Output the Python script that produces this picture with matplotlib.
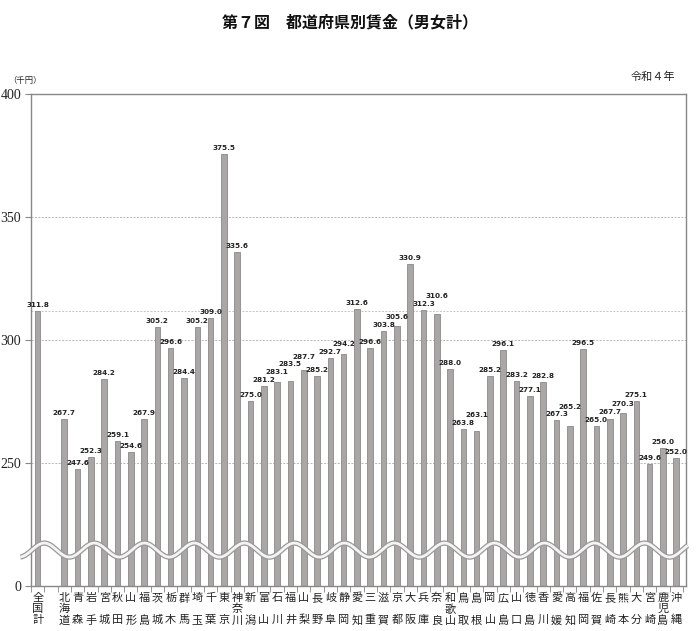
import numpy as np
import matplotlib
matplotlib.use("Agg")
import matplotlib.pyplot as plt

plt.rcParams['font.family'] = ['Noto Sans CJK JP', 'DejaVu Sans']

# --- data ---
national_label = "全国計"
national_value = 311.8

prefectures = [
    "北海道", "青森", "岩手", "宮城", "秋田", "山形", "福島", "茨城", "栃木", "群馬",
    "埼玉", "千葉", "東京", "神奈川", "新潟", "富山", "石川", "福井", "山梨", "長野",
    "岐阜", "静岡", "愛知", "三重", "滋賀", "京都", "大阪", "兵庫", "奈良", "和歌山",
    "鳥取", "島根", "岡山", "広島", "山口", "徳島", "香川", "愛媛", "高知", "福岡",
    "佐賀", "長崎", "熊本", "大分", "宮崎", "鹿児島", "沖縄",
]
wages = [
    267.7, 247.6, 252.3, 284.2, 259.1, 254.6, 267.9, 305.2, 296.6, 284.4,
    305.2, 309.0, 375.5, 335.6, 275.0, 281.2, 283.1, 283.5, 287.7, 285.2,
    292.7, 294.2, 312.6, 296.6, 303.8, 305.6, 330.9, 312.3, 310.6, 288.0,
    263.8, 263.1, 285.2, 296.1, 283.2, 277.1, 282.8, 267.3, 265.2, 296.5,
    265.0, 267.7, 270.3, 275.1, 249.6, 256.0, 252.0,
]

ytick_values = [0, 250, 300, 350, 400]
BREAK = 200  # axis is broken: values below 250 are compressed

def to_axis(v):
    return v - BREAK if v > 0 else 0


labels = [national_label] + prefectures
values = [national_value] + wages
xpos = [0] + list(range(2, 2 + len(prefectures)))

fig = plt.figure(figsize=(7, 6.31), dpi=100)
ax = fig.add_axes([0.0443, 0.0713, 0.936, 0.78])

bar_color = "#aaa6a6"
edge_color = "#8c8888"
heights = [to_axis(v) for v in values]
ax.bar(xpos, heights, width=0.42, color=bar_color, edgecolor=edge_color,
       linewidth=0.6, zorder=2)

# value labels, staggered when a neighbour sits at nearly the same height
prev_x, prev_y = None, None
for x, v, h in zip(xpos, values, heights):
    ly = h + 1.2
    if prev_x is not None and x - prev_x == 1 and abs(ly - prev_y) < 3.2:
        ly = prev_y + 3.2
    ax.text(x, ly, f"{v:.1f}", ha="center", va="bottom", fontsize=5.2,
            fontweight="bold", color="#222222", family="DejaVu Sans", zorder=4)
    prev_x, prev_y = x, ly

# gridlines
for v in [250, 300, 350]:
    ax.axhline(to_axis(v), color="#b5b5b5", lw=0.7, ls=(0, (2, 1.5)), zorder=1)
ax.axhline(to_axis(national_value), color="#c5c5c5", lw=0.7, ls=(0, (2, 1.5)),
           zorder=1)

ax.set_xlim(-0.5, 48.75)
ax.set_ylim(0, 200)

ax.set_yticks([to_axis(v) for v in ytick_values])
ax.set_yticklabels([str(v) for v in ytick_values], family="Liberation Serif",
                   fontsize=10, color="#222222")
ax.tick_params(axis="y", length=4, color="#888888", pad=3)

# stacked vertical labels
def stack(name):
    if len(name) == 2:
        return name[0] + "\n\n" + name[1]
    return "\n".join(name)

ax.set_xticks(xpos)
ax.set_xticklabels([stack(n) for n in labels], fontsize=8, linespacing=1.12,
                   color="#222222")
ax.tick_params(axis="x", length=0, pad=5)
ax.set_xticks(np.arange(-0.5, 49, 1), minor=True)
ax.tick_params(axis="x", which="minor", length=4, color="#888888")

for s in ax.spines.values():
    s.set_color("#888888")
    s.set_linewidth(1.0)

# axis break wave
wx = np.linspace(-1.3, 48.85, 600)
period = 3.76
wy = 14.6 + 2.85 * np.cos(2 * np.pi * (wx - 0.5) / period)
ax.plot(wx, wy, color="#9a9a9a", lw=3.8, zorder=5, clip_on=False,
        solid_capstyle="butt")
ax.plot(wx, wy, color="#f4f4f4", lw=2.0, zorder=6, clip_on=False,
        solid_capstyle="butt")

fig.text(0.5, 0.965, "第７図　都道府県別賃金（男女計）", ha="center", va="center",
         fontsize=11.5, fontweight="bold", color="#111111")
fig.text(0.965, 0.878, "令和４年", ha="right", va="center", fontsize=8,
         color="#222222")
fig.text(0.012, 0.873, "（千円）", ha="left", va="center", fontsize=6,
         color="#222222")

fig.savefig("out.png", dpi=100)
